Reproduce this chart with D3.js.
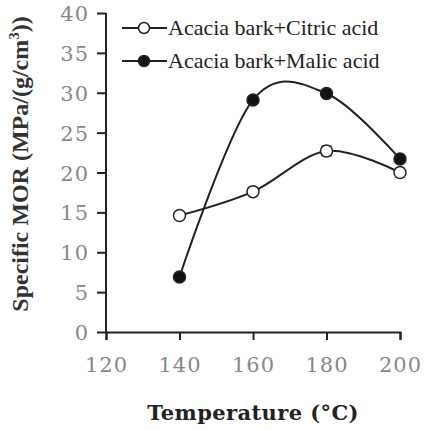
<!DOCTYPE html>
<html lang="en">
<head>
<meta charset="UTF-8">
<title>Specific MOR vs Temperature</title>
<script src="https://cdnjs.cloudflare.com/ajax/libs/d3/7.9.0/d3.min.js"></script>
<style>
    body { margin: 0; background: white; }
</style>
</head>
<body>
<svg id="chart" width="424" height="430"></svg>
<script>
    const temps = [140, 160, 180, 200];
    const citric = [14.6, 17.6, 22.7, 20.0];
    const citricErr = [0.3, 0.4, 0.6, 0.5];
    const malic = [6.9, 29.1, 29.9, 21.7];
    const malicErr = [0.3, 0.3, 0.3, 0.3];
    const xTicks = [120, 140, 160, 180, 200];
    const yTicks = [0, 5, 10, 15, 20, 25, 30, 35, 40];
    const seriesNames = ['Acacia bark+Citric acid', 'Acacia bark+Malic acid'];

    const svg = d3.select('#chart');
    const x = d3.scaleLinear().domain([120, 200]).range([106, 400]);
    const y = d3.scaleLinear().domain([0, 40]).range([332, 13]);

    // axes
    const xAxis = svg.append('g').attr('transform', 'translate(0,332)')
        .call(d3.axisBottom(x).tickValues(xTicks).tickSize(8).tickPadding(17));
    const yAxis = svg.append('g').attr('transform', 'translate(106,0)')
        .call(d3.axisLeft(y).tickValues(yTicks).tickSize(9).tickPadding(8));
    [xAxis, yAxis].forEach(a => {
        a.selectAll('.domain').attr('stroke', '#222').attr('stroke-width', 2);
        a.selectAll('.tick line').attr('stroke', '#222').attr('stroke-width', 2);
        a.selectAll('.tick text')
            .style('font-family', '"DejaVu Serif", serif')
            .style('font-size', '21px')
            .style('letter-spacing', '1px')
            .attr('fill', '#888');
    });
    yAxis.select('.domain').attr('d', 'M0,' + y(40) + 'V' + y(0));
    yAxis.selectAll('.tick text').attr('dy', '0.36em');

    // titles
    svg.append('text')
        .attr('transform', 'translate(28,164) rotate(-90)')
        .attr('text-anchor', 'middle')
        .style('font-family', '"Liberation Serif", serif')
        .style('font-size', '24px')
        .style('font-weight', 'bold')
        .attr('fill', '#333')
        .html('Specific MOR  (MPa/(g/cm<tspan dy="-9" style="font-size:15px">3</tspan><tspan dy="9">))</tspan>');

    svg.append('text')
        .attr('x', 253).attr('y', 420)
        .attr('text-anchor', 'middle')
        .style('font-family', '"DejaVu Serif", serif')
        .style('font-size', '21px')
        .style('font-weight', 'bold')
        .style('letter-spacing', '0.4px')
        .attr('fill', '#222')
        .text('Temperature (°C)');

    // series
    const series = [
        { vals: citric, err: citricErr, fill: 'white' },
        { vals: malic, err: malicErr, fill: '#111' }
    ];
    const line = d3.line()
        .x((d, i) => x(temps[i]))
        .y(d => y(d))
        .curve(d3.curveCardinal.tension(0));

    series.forEach(s => {
        svg.append('path').attr('d', line(s.vals))
            .attr('fill', 'none').attr('stroke', '#222').attr('stroke-width', 2);
        const g = svg.append('g');
        s.vals.forEach((v, i) => {
            const cx = x(temps[i]);
            g.append('path')
                .attr('d', `M${cx - 5},${y(v + s.err[i])}H${cx + 5}M${cx},${y(v + s.err[i])}V${y(v - s.err[i])}M${cx - 5},${y(v - s.err[i])}H${cx + 5}`)
                .attr('stroke', '#222').attr('stroke-width', 1.5).attr('fill', 'none');
        });
        g.selectAll('circle').data(s.vals).enter().append('circle')
            .attr('cx', (d, i) => x(temps[i]))
            .attr('cy', d => y(d))
            .attr('r', 6)
            .attr('fill', s.fill)
            .attr('stroke', '#222')
            .attr('stroke-width', 1.5);
    });

    // legend
    const legend = svg.append('g');
    seriesNames.forEach((name, i) => {
        const ly = 28 + i * 33;
        legend.append('line').attr('x1', 122).attr('x2', 167).attr('y1', ly).attr('y2', ly)
            .attr('stroke', '#222').attr('stroke-width', 2);
        legend.append('circle').attr('cx', 144).attr('cy', ly).attr('r', 5.5)
            .attr('fill', series[i].fill).attr('stroke', '#222').attr('stroke-width', 1.5);
        legend.append('text').attr('x', 168).attr('y', ly + 7)
            .style('font-family', '"Liberation Serif", serif')
            .style('font-size', '22px')
            .attr('fill', '#222')
            .text(name);
    });
</script>
</body>
</html>
